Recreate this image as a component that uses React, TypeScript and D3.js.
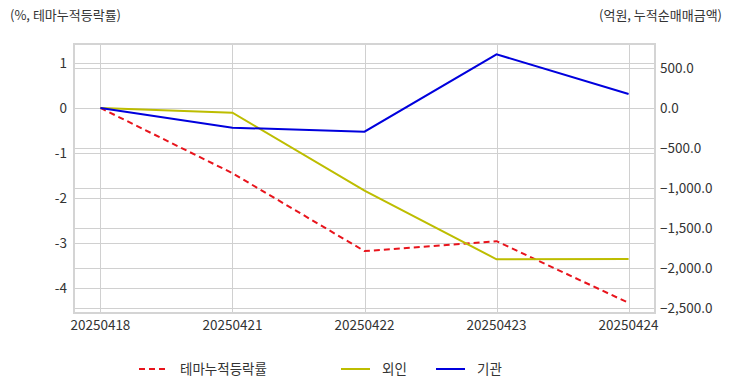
import React from "react";
import * as d3 from "d3";

const dates = ["20250418", "20250421", "20250422", "20250423", "20250424"];
const themeRate = [0, -1.45, -3.18, -2.96, -4.33];
const foreign = [0, -59, -1033, -1891, -1888];
const institution = [0, -246, -296, 671, 175];

const leftTicks = [1, 0, -1, -2, -3, -4];
const rightTicks = [500, 0, -500, -1000, -1500, -2000, -2500];

const width = 732;
const height = 392;
const margin = { top: 44, right: 77, bottom: 79, left: 74 };
const font = "'Noto Sans CJK KR', 'Noto Sans', sans-serif";

const App = () => {
  const innerRight = width - margin.right;
  const innerBottom = height - margin.bottom;

  const x = d3
    .scalePoint<string>()
    .domain(dates)
    .range([margin.left, innerRight])
    .padding(0.2);

  const yLeft = d3
    .scaleLinear()
    .domain([-4.555, 1.42])
    .range([innerBottom, margin.top]);

  const yRight = d3
    .scaleLinear()
    .domain([-2562.5, 800])
    .range([innerBottom, margin.top]);

  const lineLeft = d3
    .line<number>()
    .x((_, i) => x(dates[i]) as number)
    .y((d) => yLeft(d));

  const lineRight = d3
    .line<number>()
    .x((_, i) => x(dates[i]) as number)
    .y((d) => yRight(d));

  const fmt = d3.format(",.1f");

  const series = [
    { name: "테마누적등락률", color: "#e8141c", dash: "6,4", path: lineLeft(themeRate), lx: 139 },
    { name: "외인", color: "#bdbd00", dash: null, path: lineRight(foreign), lx: 341 },
    { name: "기관", color: "#0000dd", dash: null, path: lineRight(institution), lx: 436 },
  ];

  return (
    <svg width={width} height={height} style={{ position: "absolute", left: 0, top: 0 }} fontFamily={font}>
      <rect width={width} height={height} fill="#fff" />
      <text x={10} y={20} fontSize={13} fill="#333">(%, 테마누적등락률)</text>
      <text x={722} y={20} fontSize={13} fill="#333" textAnchor="end">(억원, 누적순매매금액)</text>

      <g className="grid">
        {leftTicks.map((t) => (
          <line key={"l" + t} x1={margin.left} x2={innerRight} y1={Math.round(yLeft(t)) + 0.5} y2={Math.round(yLeft(t)) + 0.5} stroke="#d0d0d0" />
        ))}
        {rightTicks.map((t) => (
          <line key={"r" + t} x1={margin.left} x2={innerRight} y1={Math.round(yRight(t)) + 0.5} y2={Math.round(yRight(t)) + 0.5} stroke="#d0d0d0" />
        ))}
        {dates.map((d) => (
          <line key={d} x1={Math.round(x(d) as number) + 0.5} x2={Math.round(x(d) as number) + 0.5} y1={margin.top} y2={innerBottom} stroke="#d0d0d0" />
        ))}
        <rect x={margin.left} y={margin.top} width={innerRight - margin.left} height={innerBottom - margin.top} fill="none" stroke="#d4d4d4" strokeWidth={2} />
      </g>

      <g className="left-axis" fontSize={13.5} fill="#333">
        {leftTicks.map((t) => (
          <text key={t} x={67} y={yLeft(t)} dy="0.35em" textAnchor="end">{t}</text>
        ))}
      </g>
      <g className="right-axis" fontSize={13.5} fill="#333">
        {rightTicks.map((t) => (
          <text key={t} x={660} y={yRight(t)} dy="0.35em">{fmt(t)}</text>
        ))}
      </g>
      <g className="x-axis" fontSize={13.5} fill="#333">
        {dates.map((d) => (
          <text key={d} x={x(d) as number} y={330} textAnchor="middle">{d}</text>
        ))}
      </g>

      <g className="lines">
        {series.map((s) => (
          <path key={s.name} d={s.path ?? ""} fill="none" stroke={s.color} strokeWidth={2} strokeDasharray={s.dash ?? undefined} />
        ))}
      </g>

      <g className="legend" fontSize={13.5} fill="#333">
        {series.map((s) => (
          <g key={s.name}>
            <line x1={s.lx} x2={s.lx + 29} y1={369} y2={369} stroke={s.color} strokeWidth={2} strokeDasharray={s.dash ?? undefined} />
            <text x={s.lx + 41} y={369} dy="0.35em">{s.name}</text>
          </g>
        ))}
      </g>
    </svg>
  );
};

export default App;
